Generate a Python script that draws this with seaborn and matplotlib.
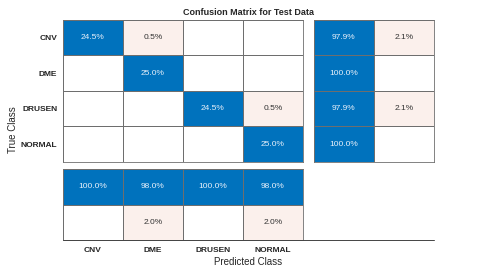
import numpy as np
import pandas as pd
import matplotlib
matplotlib.use("Agg")
import matplotlib.pyplot as plt
from matplotlib.colors import ListedColormap
from matplotlib.lines import Line2D
import seaborn as sns

# ==========================================
# DATA (percent of total, as shown)
# ==========================================

classes = ["CNV", "DME", "DRUSEN", "NORMAL"]

cell_pct = [
    [24.5, 0.5, 0.0, 0.0],
    [0.0, 25.0, 0.0, 0.0],
    [0.0, 0.0, 24.5, 0.5],
    [0.0, 0.0, 0.0, 25.0],
]

row_correct = [97.9, 100.0, 97.9, 100.0]
row_wrong = [2.1, 0.0, 2.1, 0.0]

col_correct = [100.0, 98.0, 100.0, 98.0]
col_wrong = [0.0, 2.0, 0.0, 2.0]

# ==========================================
# CONFIG
# ==========================================

sns.set_style("white")
plt.rcParams["font.family"] = ["Liberation Sans", "DejaVu Sans"]

BLUE = "#0072BD"
PINK = "#FBF0EC"
cmap = ListedColormap(["white", PINK, BLUE])


def kind(values, good):
    # 0 empty, 1 wrong (light), 2 correct (blue)
    v = np.array(values, dtype=float)
    k = np.where(v > 0, 1, 0)
    k[(v > 0) & good] = 2
    return k


def labels(values):
    v = np.array(values, dtype=float)
    return np.where(v > 0, np.char.add(np.char.mod("%.1f", v), "%"), "")


def draw(ax, values, good):
    k = kind(values, good)
    sns.heatmap(
        pd.DataFrame(k),
        ax=ax,
        cmap=cmap,
        vmin=-0.5,
        vmax=2.5,
        cbar=False,
        linewidths=0.6,
        linecolor="#6e6e6e",
        xticklabels=False,
        yticklabels=False,
    )
    lab = labels(values)
    for i in range(k.shape[0]):
        for j in range(k.shape[1]):
            if lab[i, j]:
                ax.text(
                    j + 0.5, i + 0.5, lab[i, j],
                    ha="center", va="center", fontsize=6,
                    color="#E8F0FA" if k[i, j] == 2 else "#333333",
                )
    for s in ax.spines.values():
        s.set_visible(True)
        s.set_color("#6e6e6e")
        s.set_linewidth(0.6)


fig = plt.figure(figsize=(4.8, 2.7), dpi=100)

ax_main = fig.add_axes([0.131, 0.40, 0.50, 0.526])
ax_row = fig.add_axes([0.654, 0.40, 0.25, 0.526])
ax_col = fig.add_axes([0.131, 0.111, 0.50, 0.263])

draw(ax_main, cell_pct, np.eye(4, dtype=bool))
draw(ax_row, np.column_stack([row_correct, row_wrong]),
     np.array([[True, False]] * 4))
draw(ax_col, np.vstack([col_correct, col_wrong]),
     np.array([[True] * 4, [False] * 4]))

ax_main.set_yticks(np.arange(4) + 0.5)
ax_main.set_yticklabels(classes, fontsize=6, fontweight="bold", rotation=0)
ax_main.tick_params(axis="y", length=0, pad=4)

ax_col.set_xticks(np.arange(4) + 0.5)
ax_col.set_xticklabels(classes, fontsize=6, fontweight="bold")
ax_col.tick_params(axis="x", length=0, pad=5)

# long bottom axis line
fig.add_artist(Line2D([0.131, 0.904], [0.111, 0.111],
                      color="#444444", linewidth=0.7))

fig.text(0.517, 0.952, "Confusion Matrix for Test Data",
         ha="center", va="center", fontsize=6.5, fontweight="bold")
fig.text(0.517, 0.028, "Predicted Class", ha="center", va="center", fontsize=7)
fig.text(0.027, 0.52, "True Class", ha="center", va="center",
         fontsize=7, rotation=90)

plt.savefig("out.png", dpi=100)
